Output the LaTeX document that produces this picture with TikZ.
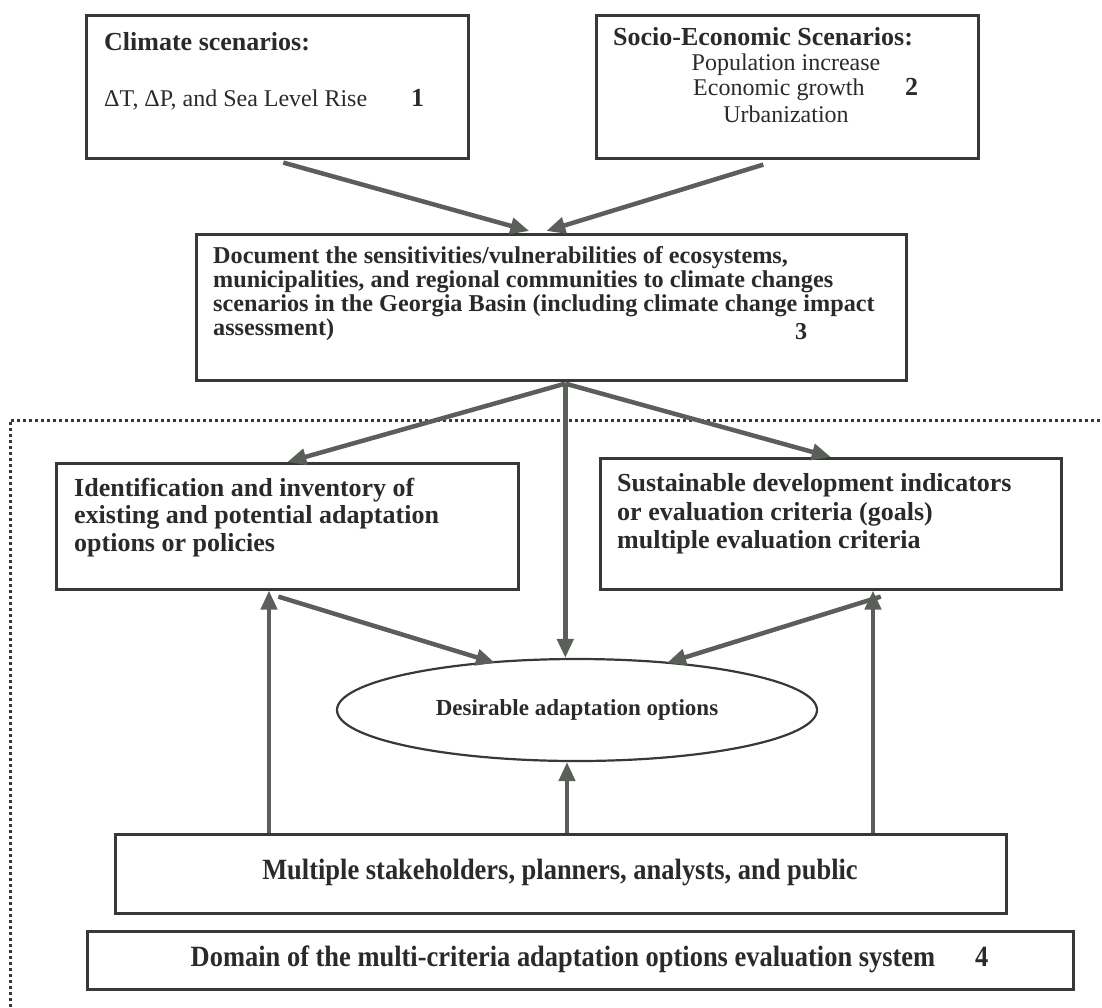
\documentclass[tikz,border=0pt]{standalone}
\usepackage{fontspec}
\setmainfont{Liberation Serif}
\newfontfamily\narrowserif[FakeStretch=0.9]{Liberation Serif}
\usetikzlibrary{arrows.meta,shapes.geometric}
\definecolor{ink}{HTML}{2A2A2A}
\definecolor{edge}{HTML}{383838}
\definecolor{arrowc}{HTML}{5A6059}
\begin{document}
\begin{tikzpicture}[x=1pt,y=-1pt,
  box/.style={draw=edge,line width=2.6pt,anchor=north west,inner sep=0pt},
  bt/.style={anchor=base west,inner sep=0pt,text=ink,font=\fontsize{26}{28}\selectfont\bfseries},
  rt/.style={anchor=base west,inner sep=0pt,text=ink,font=\fontsize{24}{26}\selectfont},
  mt/.style={anchor=base west,inner sep=0pt,text=ink,font=\fontsize{24.2}{26}\selectfont\bfseries},
  st/.style={anchor=base,inner sep=0pt,text=ink,font=\narrowserif\fontsize{29.4}{30}\selectfont\bfseries},
  arr/.style={draw=arrowc,line width=4.5pt,-{Triangle[length=19pt,width=16pt]}},
  domainline/.style={draw=edge,line width=3pt,dash pattern=on 3pt off 3pt}
]
\useasboundingbox (0,0) rectangle (1102,1007);

% dotted domain boundary
\draw[domainline] (10,1007) -- (10,420) -- (1102,420);

% boxes
\node[box,minimum width=382pt,minimum height=143pt] (b1) at (85,14) {};
\node[box,minimum width=382pt,minimum height=143pt] (b2) at (595,14) {};
\node[box,minimum width=710pt,minimum height=146pt] (mid) at (195,233) {};
\node[box,minimum width=462pt,minimum height=126pt] (lb) at (55,462) {};
\node[box,minimum width=461pt,minimum height=131pt] (rb) at (599,457) {};
\node[draw=edge,line width=2.2pt,ellipse,inner sep=0pt,minimum width=480pt,minimum height=102pt,
      text=ink,font=\fontsize{23}{25}\selectfont\bfseries] (ell) at (577,710) {Desirable adaptation options};
\node[box,minimum width=891pt,minimum height=79pt] (sb) at (114,833) {};
\node[box,minimum width=986pt,minimum height=58pt] (b4) at (86,930) {};

% texts box 1
\node[bt] (t1a) at (104,50) {Climate scenarios:};
\node[rt] (t1b) at (104,106) {ΔT, ΔP, and Sea Level Rise};
\node[bt] (t1n) at (411,106) {1};
% texts box 2
\node[bt] (t2a) at (613,45) {Socio-Economic Scenarios:};
\node[rt,anchor=base] (t2b) at (786,70) {Population increase};
\node[rt] (t2c) at (693,95) {Economic growth};
\node[bt] (t2n) at (905,95) {2};
\node[rt,anchor=base] (t2d) at (786,122) {Urbanization};
% texts middle box
\node[mt] (m1) at (213,263) {Document the sensitivities/vulnerabilities of ecosystems,};
\node[mt] (m2) at (213,287) {municipalities, and regional communities to climate changes};
\node[mt] (m3) at (213,311) {scenarios in the Georgia Basin (including climate change impact};
\node[mt] (m4) at (213,335) {assessment)};
\node[mt] (m5) at (795,339) {3};
% left box
\node[bt] (l1) at (74,496) {Identification and inventory of};
\node[bt] (l2) at (74,523) {existing and potential adaptation};
\node[bt] (l3) at (74,551) {options or policies};
% right box
\node[bt] (r1) at (617,491) {Sustainable development indicators};
\node[bt] (r2) at (617,520) {or evaluation criteria (goals)};
\node[bt] (r3) at (617,548) {multiple evaluation criteria};
% bottom boxes
\node[st] (s1) at (560,879) {Multiple stakeholders, planners, analysts, and public};
\node[st] (d1) at (563,966) {Domain of the multi-criteria adaptation options evaluation system};
\node[st,anchor=base west] (d2) at (975,966) {4};

% connectors
\draw[arr] ([xshift=6pt,yshift=-3pt]b1.south) -- ([xshift=-22pt,yshift=2pt]mid.north);
\draw[arr] ([xshift=-24pt,yshift=-5pt]b2.south) -- ([xshift=-5pt,yshift=2pt]mid.north);

\coordinate (fork) at ([xshift=14pt,yshift=-2pt]mid.south);
\draw[arr] (fork) -- (lb.north);
\draw[arr] (fork) -- (rb.north);
\draw[arr] (fork) -- (fork |- ell.north);

\draw[arr] ([xshift=-9pt,yshift=-6pt]lb.south) -- ([xshift=-82pt,yshift=-5pt]ell.north);
\draw[arr] ([xshift=50pt,yshift=-6pt]rb.south) -- ([xshift=90pt,yshift=-5pt]ell.north);

\coordinate (up1) at ([xshift=155pt]sb.north west);
\coordinate (up2) at ([xshift=453pt]sb.north west);
\coordinate (up3) at ([xshift=759pt]sb.north west);
\draw[arr] (up1) -- (up1 |- lb.south);
\draw[arr] (up2) -- (up2 |- ell.south);
\draw[arr] (up3) -- (up3 |- rb.south);
\end{tikzpicture}
\end{document}
